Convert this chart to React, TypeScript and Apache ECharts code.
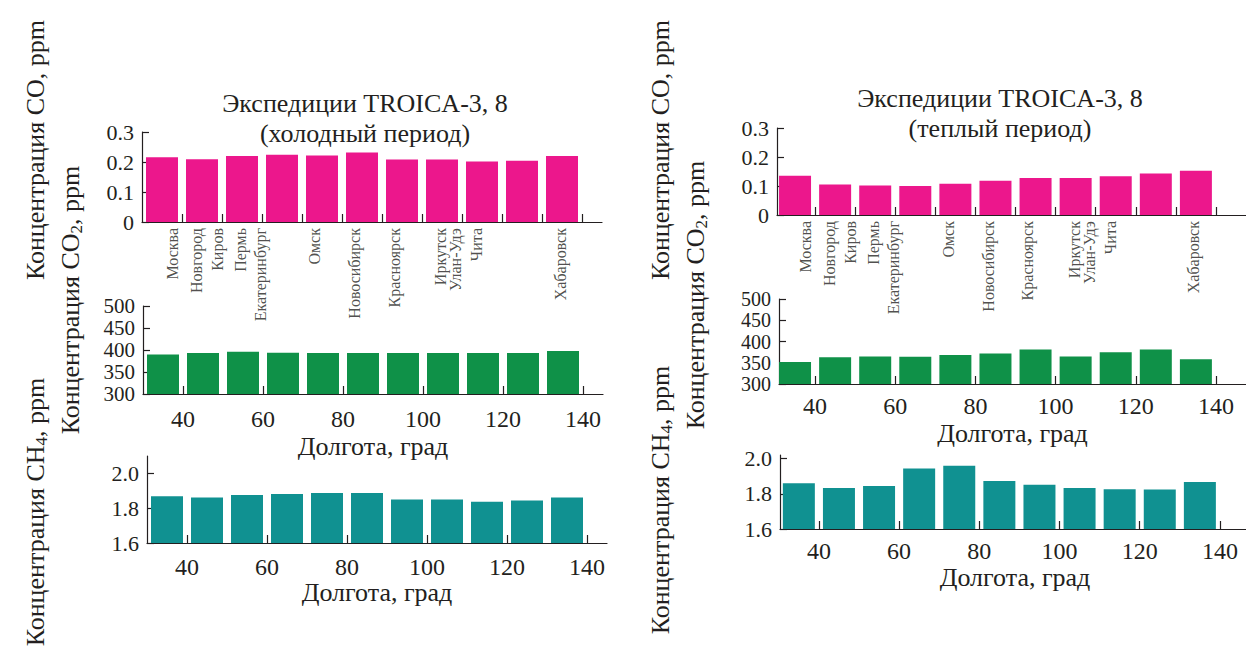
import React, { useEffect, useRef } from "react";
import * as echarts from "echarts";

// ---- data ----
const barLongitudes = [35, 45, 55, 65, 75, 85, 95, 105, 115, 125, 135];
const coCold = [0.216, 0.209, 0.22, 0.224, 0.222, 0.232, 0.208, 0.208, 0.202, 0.204, 0.22];
const co2Cold = [390, 393, 396, 394, 393, 393, 393, 393, 393, 393, 398];
const ch4Cold = [1.868, 1.862, 1.876, 1.882, 1.887, 1.887, 1.85, 1.85, 1.837, 1.844, 1.861];
const coWarm = [0.135, 0.105, 0.102, 0.1, 0.108, 0.118, 0.128, 0.128, 0.134, 0.143, 0.153];
const co2Warm = [352, 363, 365, 364, 368, 372, 381, 365, 375, 381, 358];
const ch4Warm = [1.859, 1.833, 1.844, 1.944, 1.959, 1.872, 1.851, 1.833, 1.826, 1.824, 1.867];

const cityNames = [
  "Москва", "Новгород", "Киров", "Пермь", "Екатеринбург", "Омск",
  "Новосибирск", "Красноярск", "Иркутск", "Улан-Удэ", "Чита", "Хабаровск",
];
const cityLongitudes = [37.6, 43.5, 48.8, 54.5, 59.5, 73.2, 83.2, 93, 104.6, 108.4, 113.6, 134.5];

const lonTicks = [40, 60, 80, 100, 120, 140];
const lonMinorTicks = [40, 50, 60, 70, 80, 90, 100, 110, 120, 130, 140];
const coTicks = [0, 0.1, 0.2, 0.3];
const co2Ticks = [300, 350, 400, 450, 500];
const ch4Ticks = [1.6, 1.8, 2.0];

const titleLine1 = "Экспедиции TROICA-3, 8";
const titleCold = "(холодный период)";
const titleWarm = "(теплый период)";
const xName = "Долгота, град";

const FONT = "Liberation Serif, Times New Roman, serif";
const INK = "#231f20";
const PINK = "#ec178c";
const GREEN = "#0f9148";
const TEAL = "#109191";

export default function App() {
  const ref = useRef<HTMLDivElement>(null);

  useEffect(() => {
    if (!ref.current) return;
    const chart = echarts.init(ref.current, undefined, { renderer: "svg" });

    type Panel = {
      grid: any; xMin: number; xMax: number; yMin: number; yMax: number;
      yTicks: number[]; xTicks: number[]; showXLabels: boolean; labelMargin: number; nameGap: number;
      yFont: number; yLine: number;
      data: number[]; color: string; fmt: (v: number) => string;
    };
    const coFmt = (v: number) => (v === 0 ? "0" : v.toFixed(1));
    const intFmt = (v: number) => String(Math.round(v));
    const oneFmt = (v: number) => v.toFixed(1);

    const panels: Panel[] = [
      { grid: { left: 142, top: 132, width: 460, height: 90 }, xMin: 30, xMax: 145, yMin: 0, yMax: 0.3, yTicks: coTicks, xTicks: lonMinorTicks, showXLabels: false, labelMargin: 12, nameGap: 40, yFont: 22, yLine: 20, data: coCold, color: PINK, fmt: coFmt },
      { grid: { left: 143, top: 306, width: 460, height: 88 }, xMin: 30, xMax: 145, yMin: 300, yMax: 500, yTicks: co2Ticks, xTicks: lonTicks, showXLabels: true, labelMargin: 13, nameGap: 39, yFont: 21, yLine: 17, data: co2Cold, color: GREEN, fmt: intFmt },
      { grid: { left: 147, top: 456, width: 460, height: 87 }, xMin: 30, xMax: 145, yMin: 1.6, yMax: 2.1, yTicks: ch4Ticks, xTicks: lonTicks, showXLabels: true, labelMargin: 12, nameGap: 33, yFont: 22, yLine: 20, data: ch4Cold, color: TEAL, fmt: oneFmt },
      { grid: { left: 777, top: 128, width: 469, height: 87 }, xMin: 30.5, xMax: 147.5, yMin: 0, yMax: 0.3, yTicks: coTicks, xTicks: lonMinorTicks, showXLabels: false, labelMargin: 12, nameGap: 40, yFont: 22, yLine: 20, data: coWarm, color: PINK, fmt: coFmt },
      { grid: { left: 779, top: 299, width: 467, height: 85 }, xMin: 31, xMax: 147.5, yMin: 300, yMax: 500, yTicks: co2Ticks, xTicks: lonTicks, showXLabels: true, labelMargin: 10, nameGap: 36, yFont: 20, yLine: 16, data: co2Warm, color: GREEN, fmt: intFmt },
      { grid: { left: 780, top: 455, width: 470, height: 74 }, xMin: 30.3, xMax: 147.5, yMin: 1.6, yMax: 2.02, yTicks: ch4Ticks, xTicks: lonTicks, showXLabels: true, labelMargin: 10, nameGap: 35, yFont: 22, yLine: 20, data: ch4Warm, color: TEAL, fmt: oneFmt },
    ];

    const axisLine = { show: true, onZero: false, lineStyle: { color: INK, width: 1.2 } };

    const grids = panels.map((p) => ({ ...p.grid, containLabel: false, outerBoundsMode: "none" }));
    const xAxes = panels.map((p, i) => ({
      type: "value",
      gridIndex: i,
      min: p.xMin,
      max: p.xMax,
      splitLine: { show: false },
      axisLine,
      axisTick: { show: true, inside: true, length: 8, customValues: p.xTicks, lineStyle: { color: INK, width: 1.2 } },
      axisLabel: {
        show: p.showXLabels,
        customValues: lonTicks,
        margin: p.labelMargin,
        fontFamily: FONT,
        fontSize: 24,
        color: INK,
        hideOverlap: false,
      },
      name: p.showXLabels ? xName : "",
      nameLocation: "middle",
      nameGap: p.nameGap,
      nameTextStyle: { fontFamily: FONT, fontSize: 26, color: INK },
    }));
    const yAxes = panels.map((p, i) => ({
      type: "value",
      gridIndex: i,
      min: p.yMin,
      max: p.yMax,
      splitLine: { show: false },
      axisLine,
      axisTick: { show: true, inside: true, length: 7, customValues: p.yTicks, lineStyle: { color: INK, width: 1.2 } },
      axisLabel: {
        customValues: p.yTicks,
        interval: 0,
        margin: 8,
        fontFamily: FONT,
        fontSize: p.yFont,
        lineHeight: p.yLine,
        color: INK,
        hideOverlap: false,
        showMinLabel: true,
        showMaxLabel: true,
        formatter: (v: number) => p.fmt(v),
      },
    }));

    const barSeries = panels.map((p, i) => ({
      type: "bar",
      xAxisIndex: i,
      yAxisIndex: i,
      barWidth: 32,
      data: barLongitudes.map((lon, k) => [lon, p.data[k]]),
      itemStyle: { color: p.color },
      silent: true,
    }));

    const citySeries = [0, 3].map((i) => ({
      type: "scatter",
      xAxisIndex: i,
      yAxisIndex: i,
      symbolSize: 0,
      silent: true,
      data: cityLongitudes.map((lon, k) => ({ value: [lon, 0], name: cityNames[k] })),
      label: {
        show: true,
        formatter: (prm: any) => prm.name,
        position: "bottom",
        distance: 6,
        rotate: 90,
        align: "right",
        verticalAlign: "middle",
        fontFamily: FONT,
        fontSize: 16,
        color: INK,
      },
    }));

    const richT = {
      a: { fontFamily: FONT, fontSize: 26, color: INK, lineHeight: 30 },
      s: { fontFamily: FONT, fontSize: 17, color: INK, lineHeight: 30, verticalAlign: "bottom", padding: [10, 0, 0, 0] },
    };
    const yTitle = (x: number, y: number, gas: string, sub: string) => ({
      type: "text",
      x,
      y,
      rotation: Math.PI / 2,
      style: {
        text: sub ? `{a|Концентрация ${gas}}{s|${sub}}{a|, ppm}` : `{a|Концентрация ${gas}, ppm}`,
        rich: richT,
        align: "center",
        verticalAlign: "middle",
        fill: INK,
      },
    });
    const titleText = (x: number, y: number, text: string) => ({
      type: "text",
      x,
      y,
      style: { text, fontFamily: FONT, fontSize: 26, fill: INK, align: "center", verticalAlign: "middle" },
    });

    chart.setOption({
      animation: false,
      backgroundColor: "#ffffff",
      grid: grids,
      xAxis: xAxes,
      yAxis: yAxes,
      series: [...barSeries, ...citySeries],
      graphic: [
        titleText(365, 103, titleLine1),
        titleText(365, 133, titleCold),
        titleText(1000, 98, titleLine1),
        titleText(1000, 128, titleWarm),
        yTitle(35, 150, "CO", ""),
        yTitle(70, 300, "CO", "2"),
        yTitle(35, 512, "CH", "4"),
        yTitle(660, 150, "CO", ""),
        yTitle(695, 295, "CO", "2"),
        yTitle(660, 500, "CH", "4"),
      ],
    });

    return () => chart.dispose();
  }, []);

  return (
    <div
      ref={ref}
      style={{ position: "absolute", left: 0, top: 0, width: 1246, height: 661, background: "#fff" }}
    />
  );
}
